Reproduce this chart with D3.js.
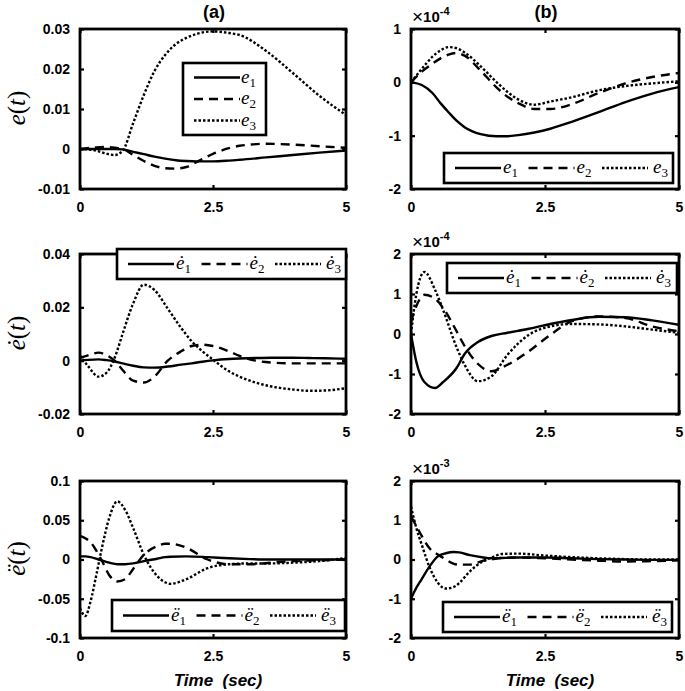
<!DOCTYPE html>
<html>
<head>
<meta charset="utf-8">
<script src="https://cdn.jsdelivr.net/npm/d3@7"></script>
<style>
  html, body { margin: 0; padding: 0; background: #fff; }
  svg { display: block; }
</style>
</head>
<body>
<svg id="chart" width="685" height="691"></svg>
<script>
// ---------------- DATA ----------------
// Column (a) row 1 : e(t)
const tA1 = [0,0.3,0.5,0.65,0.8,1.0,1.2,1.4,1.6,1.8,2.0,2.2,2.5,2.8,3.0,3.5,4.0,4.5,5];
const a1_e1 = [0,0,0,0,-0.0001,-0.0007,-0.0013,-0.0019,-0.0024,-0.0028,-0.003,-0.0031,-0.0031,-0.0029,-0.0027,-0.0021,-0.0015,-0.0009,-0.0004];
const a1_e2 = [0,0.0004,0.0005,0.0003,0,-0.0015,-0.003,-0.0042,-0.0048,-0.0049,-0.0045,-0.0032,-0.0012,0.0002,0.0008,0.0013,0.0011,0.0007,0.0003];
const a1_e3 = [0,-0.0004,-0.0012,-0.0015,-0.0005,0.0065,0.0135,0.0195,0.0235,0.0262,0.0278,0.0288,0.0294,0.029,0.0285,0.0245,0.019,0.0133,0.0085];

// Column (a) row 2 : e-dot(t)
const tA2 = [0,0.15,0.35,0.5,0.65,0.8,1.0,1.2,1.4,1.65,1.9,2.1,2.3,2.5,2.8,3.0,3.3,3.6,4.0,4.3,4.6,5];
const a2_e1 = [0,0.0003,0.0005,0.0002,-0.0003,-0.001,-0.0019,-0.0025,-0.0026,-0.0022,-0.0015,-0.001,-0.0004,0.0001,0.0006,0.0008,0.001,0.0011,0.0011,0.001,0.0009,0.0007];
const a2_e2 = [0.001,0.002,0.003,0.002,0,-0.0035,-0.0075,-0.0082,-0.006,0,0.0035,0.0055,0.006,0.0055,0.0035,0.0018,0,-0.0007,-0.001,-0.001,-0.001,-0.001];
const a2_e3 = [0.002,-0.002,-0.006,-0.0045,0.001,0.01,0.0215,0.0285,0.0265,0.0195,0.0123,0.0073,0.0035,0.0004,-0.004,-0.006,-0.0082,-0.0097,-0.0108,-0.0113,-0.0112,-0.0103];

// Column (a) row 3 : e-ddot(t)
const tA3 = [0,0.1,0.2,0.3,0.4,0.55,0.7,0.85,1.0,1.2,1.45,1.6,1.7,2.0,2.4,2.8,3.2,3.6,4.0,4.5,5];
const a3_e1 = [0.004,0.004,0.003,0.001,-0.001,-0.004,-0.006,-0.006,-0.005,-0.002,0.001,0.003,0.0035,0.004,0.003,0.0015,0.0005,0,0,0,0];
const a3_e2 = [0.03,0.027,0.022,0.012,0,-0.02,-0.028,-0.025,-0.012,0.006,0.017,0.02,0.02,0.015,0,-0.006,-0.006,-0.004,-0.002,-0.001,0];
const a3_e3 = [-0.062,-0.072,-0.053,-0.022,0.011,0.053,0.074,0.063,0.04,0.006,-0.021,-0.029,-0.031,-0.025,-0.011,-0.006,-0.005,-0.005,-0.004,-0.002,0.002];

// Column (b) row 1 : e(t)  (x 1e-4)
const tB1 = [0,0.2,0.4,0.55,0.7,0.85,1.0,1.3,1.6,1.8,2.0,2.3,2.6,3.0,3.5,4.0,4.5,5];
const b1_e1 = [0,-0.05,-0.2,-0.39,-0.56,-0.72,-0.84,-0.97,-1.01,-1.01,-0.99,-0.94,-0.87,-0.74,-0.56,-0.37,-0.21,-0.09];
const b1_e2 = [0,0.2,0.35,0.45,0.52,0.55,0.5,0.22,-0.1,-0.27,-0.39,-0.5,-0.5,-0.41,-0.2,-0.02,0.1,0.175];
const b1_e3 = [0,0.25,0.48,0.6,0.66,0.64,0.56,0.3,0.0,-0.18,-0.32,-0.42,-0.36,-0.28,-0.15,-0.07,-0.02,0.02];

// Column (b) row 2 : e-dot(t)  (x 1e-4)
const tB2 = [0,0.1,0.25,0.45,0.6,0.85,1.0,1.25,1.5,1.8,2.2,2.6,3.0,3.5,4.0,4.5,5];
const b2_e1 = [0,-0.7,-1.2,-1.35,-1.2,-0.85,-0.5,-0.2,-0.05,0.03,0.13,0.25,0.35,0.43,0.42,0.34,0.23];
const b2_e2 = [0.3,0.7,0.98,0.88,0.65,0.07,-0.3,-0.75,-0.93,-0.77,-0.43,-0.02,0.32,0.44,0.4,0.19,0.07];
const b2_e3 = [0,1.0,1.55,1.1,0.6,-0.33,-0.77,-1.18,-1.06,-0.52,-0.02,0.19,0.25,0.24,0.19,0.11,0.03];

// Column (b) row 3 : e-ddot(t)  (x 1e-3)
const tB3 = [0,0.1,0.2,0.35,0.5,0.65,0.8,0.9,1.1,1.35,1.5,1.7,2.0,2.5,3.0,3.5,4.0,4.5,5];
const b3_e1 = [-1.0,-0.72,-0.5,-0.17,0.08,0.16,0.19,0.18,0.11,0.05,0.03,0.04,0.05,0.05,0.03,0.01,0,-0.01,-0.01];
const b3_e2 = [1.1,0.85,0.6,0.28,0.13,0.0,-0.11,-0.13,-0.13,-0.03,0.0,0.04,0.05,0.03,0.0,-0.03,-0.05,-0.04,-0.02];
const b3_e3 = [1.35,0.8,0.38,-0.21,-0.59,-0.74,-0.7,-0.6,-0.3,-0.04,0.05,0.14,0.15,0.1,0.06,0.03,0.01,0,0];

// Tick values & labels
const xTicks = [0, 2.5, 5];
const xTickLabels = ["0", "2.5", "5"];
const yTicksA1 = [-0.01, 0, 0.01, 0.02, 0.03];
const yLabelsA1 = ["-0.01", "0", "0.01", "0.02", "0.03"];
const yTicksA2 = [-0.02, 0, 0.02, 0.04];
const yLabelsA2 = ["-0.02", "0", "0.02", "0.04"];
const yTicksA3 = [-0.1, -0.05, 0, 0.05, 0.1];
const yLabelsA3 = ["-0.1", "-0.05", "0", "0.05", "0.1"];
const yTicksB1 = [-2, -1, 0, 1];
const yLabelsB1 = ["-2", "-1", "0", "1"];
const yTicksB2 = [-2, -1, 0, 1, 2];
const yLabelsB2 = ["-2", "-1", "0", "1", "2"];
const yTicksB3 = [-2, -1, 0, 1, 2];
const yLabelsB3 = ["-2", "-1", "0", "1", "2"];

const columnTitles = ["(a)", "(b)"];
const xAxisTitle = "Time  (sec)";
const yAxisSymbols = ["e", "\u0117", "\u00EB"];   // e, ė, ë
const multipliers = ["-4", "-4", "-3"];

// ---------------- LAYOUT ----------------
const svg = d3.select("#chart");
const cols = [[80, 346], [411, 679]];
const rows = [[29, 189], [254, 414], [481, 638]];
const styles = [
  { dash: null },
  { dash: "9,6" },
  { dash: "2.5,2" }
];
const tickFont = "'Liberation Sans', Arial, sans-serif";
const serif = "'Liberation Serif', 'Times New Roman', serif";

const panels = [
  { c:0, r:0, t:tA1, s:[a1_e1,a1_e2,a1_e3], dom:[-0.01,0.03], yt:yTicksA1, yl:yLabelsA1,
    legend:{ type:"v", x:183, y:63, w:83, h:72 } },
  { c:0, r:1, t:tA2, s:[a2_e1,a2_e2,a2_e3], dom:[-0.02,0.04], yt:yTicksA2, yl:yLabelsA2,
    legend:{ type:"h", x:117, y:249, w:229, h:30 } },
  { c:0, r:2, t:tA3, s:[a3_e1,a3_e2,a3_e3], dom:[-0.1,0.1], yt:yTicksA3, yl:yLabelsA3,
    legend:{ type:"h", x:112, y:600, w:233, h:31 } },
  { c:1, r:0, t:tB1, s:[b1_e1,b1_e2,b1_e3], dom:[-2,1], yt:yTicksB1, yl:yLabelsB1,
    legend:{ type:"h", x:444, y:153, w:229, h:30 } },
  { c:1, r:1, t:tB2, s:[b2_e1,b2_e2,b2_e3], dom:[-2,2], yt:yTicksB2, yl:yLabelsB2,
    legend:{ type:"h", x:447, y:263, w:230, h:30 } },
  { c:1, r:2, t:tB3, s:[b3_e1,b3_e2,b3_e3], dom:[-2,2], yt:yTicksB3, yl:yLabelsB3,
    legend:{ type:"h", x:443, y:602, w:229, h:30 } }
];

function legendLabel(g, x, y, r, k) {
  const txt = g.append("text").attr("x", x).attr("y", y)
    .attr("font-family", serif).attr("font-size", 19).attr("fill", "#000");
  txt.append("tspan").attr("font-style", "italic").text(yAxisSymbols[r]);
  txt.append("tspan").attr("font-size", 13).attr("dy", 4).text(String(k + 1));
}

panels.forEach((p, pi) => {
  const [x0, x1] = cols[p.c];
  const [y0, y1] = rows[p.r];
  const x = d3.scaleLinear().domain([0, 5]).range([x0, x1]);
  const y = d3.scaleLinear().domain(p.dom).range([y1, y0]);
  const g = svg.append("g");

  const clipId = "clip" + pi;
  svg.append("clipPath").attr("id", clipId)
    .append("rect").attr("x", x0).attr("y", y0).attr("width", x1 - x0).attr("height", y1 - y0);

  // curves
  const line = d3.line().x(d => x(d[0])).y(d => y(d[1])).curve(d3.curveMonotoneX);
  p.s.forEach((vals, k) => {
    const pts = p.t.map((tt, i) => [tt, vals[i]]);
    g.append("path").attr("d", line(pts))
      .attr("fill", "none").attr("stroke", "#000").attr("stroke-width", 2.4)
      .attr("stroke-dasharray", styles[k].dash)
      .attr("clip-path", `url(#${clipId})`);
  });

  // axes via d3 axis (ticks inward, labels outside)
  const axB = d3.axisBottom(x).tickValues(xTicks).tickSize(-4).tickPadding(13)
    .tickFormat((d, i) => xTickLabels[i]);
  const axT = d3.axisTop(x).tickValues(xTicks).tickSize(-4).tickFormat("");
  const axL = d3.axisLeft(y).tickValues(p.yt).tickSize(-4).tickPadding(10)
    .tickFormat((d, i) => p.yl[i]);
  const axR = d3.axisRight(y).tickValues(p.yt).tickSize(-4).tickFormat("");

  [[axB, `translate(0,${y1})`], [axT, `translate(0,${y0})`],
   [axL, `translate(${x0},0)`], [axR, `translate(${x1},0)`]].forEach(([ax, tr]) => {
    const a = g.append("g").attr("transform", tr).call(ax);
    a.select(".domain").remove();
    a.selectAll(".tick line").attr("stroke", "#000").attr("stroke-width", 2.2);
    a.selectAll(".tick text").attr("font-family", tickFont).attr("font-weight", "bold")
      .attr("font-size", 14).attr("fill", "#000");
  });

  // frame
  g.append("rect").attr("x", x0).attr("y", y0).attr("width", x1 - x0).attr("height", y1 - y0)
    .attr("fill", "none").attr("stroke", "#000").attr("stroke-width", 2.8);

  // multiplier
  if (p.c === 1) {
    const m = g.append("text").attr("x", x0 + 1).attr("y", y0 - 7)
      .attr("font-family", tickFont).attr("font-size", 15).attr("fill", "#000");
    m.append("tspan").attr("font-size", 19).attr("dy", 1).text("\u00D7");
    m.append("tspan").attr("font-weight", "bold").attr("dy", -1).text("10");
    m.append("tspan").attr("font-weight", "bold").attr("font-size", 11).attr("dy", -7).text(multipliers[p.r]);
  }

  // legend
  const L = p.legend;
  const lg = g.append("g");
  lg.append("rect").attr("x", L.x).attr("y", L.y).attr("width", L.w).attr("height", L.h)
    .attr("fill", "#fff").attr("stroke", "#000").attr("stroke-width", 2.6);
  if (L.type === "v") {
    [0, 1, 2].forEach(k => {
      const yy = L.y + 14.5 + k * 21.5;
      lg.append("line").attr("x1", L.x + 11).attr("x2", L.x + 57).attr("y1", yy).attr("y2", yy)
        .attr("stroke", "#000").attr("stroke-width", 2.4).attr("stroke-dasharray", styles[k].dash);
      legendLabel(lg, L.x + 58, yy + 5, p.r, k);
    });
  } else {
    [0, 1, 2].forEach(k => {
      const off = L.x + k * 73.5;
      const yy = L.y + L.h / 2;
      lg.append("line").attr("x1", off + 11).attr("x2", off + 57).attr("y1", yy).attr("y2", yy)
        .attr("stroke", "#000").attr("stroke-width", 2.4).attr("stroke-dasharray", styles[k].dash);
      legendLabel(lg, off + (k === 2 ? 62 : 59), yy + 5, p.r, k);
    });
  }
});

// column titles
cols.forEach((c, i) => {
  svg.append("text").attr("x", (c[0] + c[1]) / 2 + 1).attr("y", 18)
    .attr("text-anchor", "middle").attr("font-family", tickFont).attr("font-weight", "bold")
    .attr("font-size", 18).attr("fill", "#000").text(columnTitles[i]);
  svg.append("text").attr("x", (c[0] + c[1]) / 2 + 5).attr("y", 686)
    .attr("text-anchor", "middle").attr("font-family", tickFont).attr("font-weight", "bold")
    .attr("font-style", "italic").attr("font-size", 17).attr("fill", "#000")
    .attr("xml:space", "preserve").style("white-space", "pre").text(xAxisTitle);
});

// y-axis titles
rows.forEach((r, i) => {
  const cy = (r[0] + r[1]) / 2 - 1;
  const t = svg.append("text").attr("transform", `translate(25,${cy}) rotate(-90)`)
    .attr("text-anchor", "middle").attr("font-family", serif).attr("font-size", 25).attr("fill", "#000");
  t.append("tspan").attr("font-style", "italic").text(yAxisSymbols[i]);
  t.append("tspan").text("(");
  t.append("tspan").attr("font-style", "italic").text("t");
  t.append("tspan").text(")");
});
</script>
</body>
</html>
